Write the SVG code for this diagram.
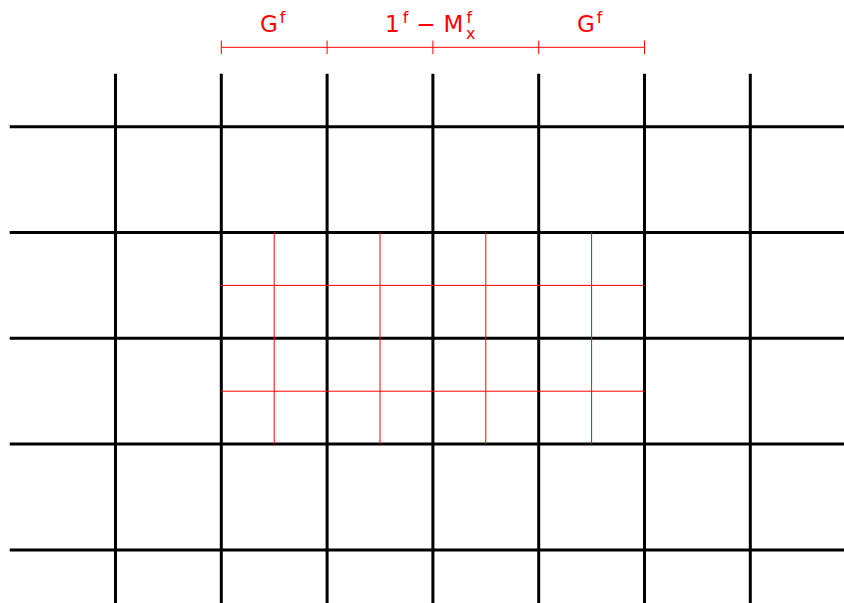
<svg xmlns="http://www.w3.org/2000/svg" width="844" height="603" viewBox="0 0 844 603">
<style>
.blk{stroke:#000;stroke-width:3;fill:none}
.red{stroke:#f00;stroke-width:1;fill:none}
.lbl{fill:#f00;font-family:"DejaVu Sans","Liberation Sans",sans-serif;font-size:23px}
.sup{font-size:16px}
</style>
<rect width="844" height="603" fill="#fff"/>
<g id="connectors">
<g id="black-grid" class="blk">
<path d="M115.5 73.8V603M221.3 73.8V603M327.1 73.8V603M432.9 73.8V603M538.7 73.8V603M644.5 73.8V603M750.3 73.8V603"/>
<path d="M9.7 126.7H844M9.7 232.5H844M9.7 338.3H844M9.7 444.1H844M9.7 549.9H844"/>
</g>
<g id="red-grid" class="red">
<path d="M274.2 232.5V444.1M380 232.5V444.1M485.8 232.5V444.1M591.6 232.5V444.1"/>
<path d="M221.3 285.4H644.5M221.3 391.2H644.5"/>
</g>
<g id="measure" class="red">
<path d="M221.3 47.3H644.5"/>
<path d="M221.3 40.5V54M327.1 40.5V54M432.9 40.5V54M538.7 40.5V54M644.5 40.5V54"/>
</g>
</g>
<g id="label-left"><text class="lbl" x="260" y="31.5">G<tspan class="sup" dx="2" dy="-9">f</tspan></text></g>
<g id="label-mid"><text class="lbl" x="385" y="31.5">1<tspan class="sup" dx="3" dy="-9">f</tspan><tspan dx="8" dy="9">−</tspan><tspan dx="8">M</tspan><tspan class="sup" dx="3" dy="-9">f</tspan><tspan class="sup" dx="-6" dy="16">x</tspan></text></g>
<g id="label-right"><text class="lbl" x="577" y="31.5">G<tspan class="sup" dx="2" dy="-9">f</tspan></text></g>
</svg>
